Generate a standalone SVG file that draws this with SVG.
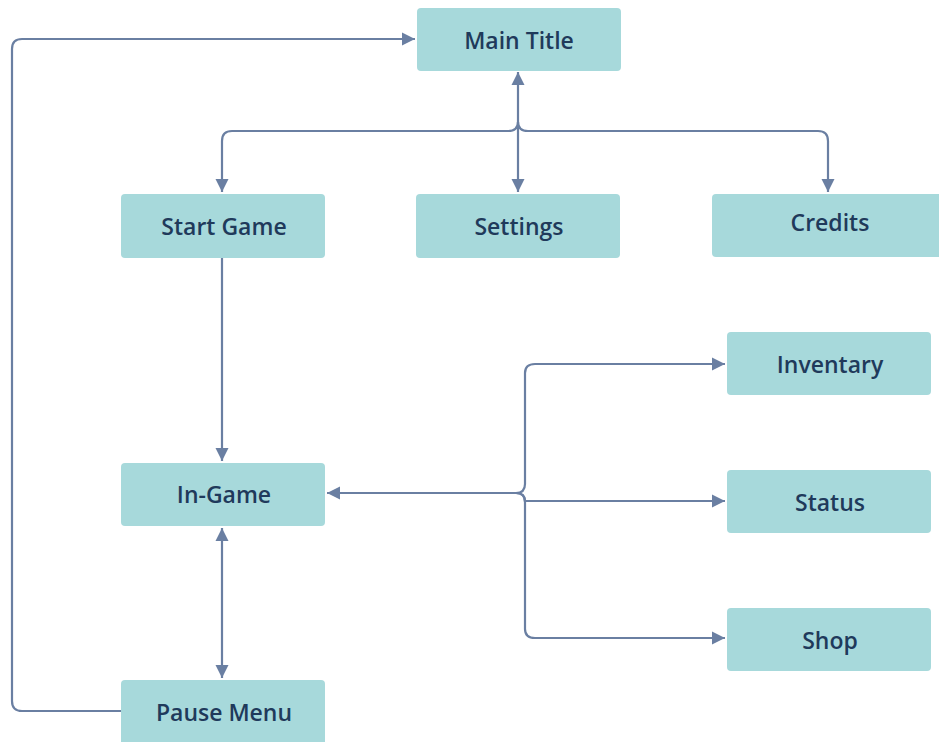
<svg xmlns="http://www.w3.org/2000/svg" width="939" height="742" viewBox="0 0 939 742">
<style>
.n rect{fill:#a7d9db;}
.n text{font-family:"Open Sans","Noto Sans",sans-serif;font-weight:600;font-size:23px;fill:#1f3a5b;text-anchor:middle;dominant-baseline:central;}
.c path{fill:none;stroke:#6a7fa2;stroke-width:2.2;}
</style>
<defs>
<marker id="ah" viewBox="0 0 10 10" refX="10" refY="5" markerWidth="6" markerHeight="6" orient="auto-start-reverse">
<path d="M0,0 L10,5 L0,10 z" fill="#6a7fa2"/>
</marker>
</defs>
<rect width="939" height="742" fill="#ffffff"/>
<g class="c">
<path d="M518,72 V192" marker-start="url(#ah)" marker-end="url(#ah)"/>
<path d="M518,122 Q518,131 508,131 H232 Q222,131 222,141 V192" marker-end="url(#ah)"/>
<path d="M518,122 Q518,131 528,131 H818 Q828,131 828,141 V192" marker-end="url(#ah)"/>
<path d="M222,258 V461" marker-end="url(#ah)"/>
<path d="M222,528 V678" marker-start="url(#ah)" marker-end="url(#ah)"/>
<path d="M121,711 H22 Q12,711 12,701 V49 Q12,39 22,39 H415" marker-end="url(#ah)"/>
<path d="M516,493 H327" marker-end="url(#ah)"/>
<path d="M516,493 Q525,493 525,484 V373 Q525,364 535,364 H725" marker-end="url(#ah)"/>
<path d="M516,493 Q525,493 525,502 V629 Q525,638 535,638 H725" marker-end="url(#ah)"/>
<path d="M516,493 Q525,493 525,501 H725" marker-end="url(#ah)"/>
</g>
<g id="main-title" class="n"><rect x="417" y="8" width="204" height="63" rx="4"/><text x="519" y="40">Main Title</text></g>
<g id="start-game" class="n"><rect x="121" y="194" width="204" height="64" rx="4"/><text x="224" y="226">Start Game</text></g>
<g id="settings" class="n"><rect x="416" y="194" width="204" height="64" rx="4"/><text x="519" y="226">Settings</text></g>
<g id="credits" class="n"><rect x="712" y="194" width="236" height="63" rx="4"/><text x="830" y="222">Credits</text></g>
<g id="inventary" class="n"><rect x="727" y="332" width="204" height="63" rx="4"/><text x="830" y="364">Inventary</text></g>
<g id="in-game" class="n"><rect x="121" y="463" width="204" height="63" rx="4"/><text x="224" y="494">In-Game</text></g>
<g id="status" class="n"><rect x="727" y="470" width="204" height="63" rx="4"/><text x="830" y="502">Status</text></g>
<g id="shop" class="n"><rect x="727" y="608" width="204" height="63" rx="4"/><text x="830" y="640">Shop</text></g>
<g id="pause-menu" class="n"><rect x="121" y="680" width="204" height="66" rx="4"/><text x="224" y="712">Pause Menu</text></g>
</svg>
